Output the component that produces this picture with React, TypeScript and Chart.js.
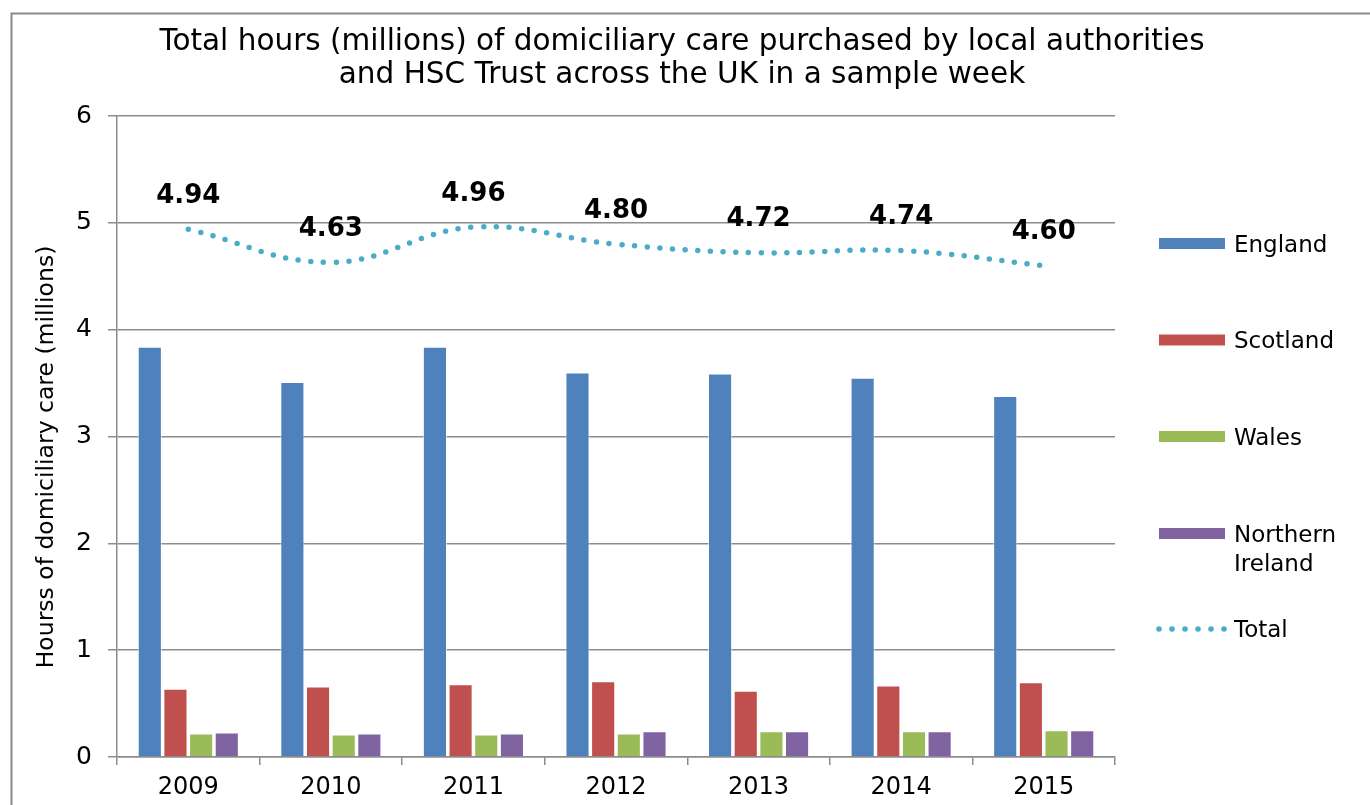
import { useEffect, useRef } from "react";
import { Chart, registerables } from "chart.js";

Chart.register(...registerables);

const years = ["2009", "2010", "2011", "2012", "2013", "2014", "2015"];
const england = [3.84, 3.51, 3.84, 3.6, 3.59, 3.55, 3.38];
const scotland = [0.64, 0.66, 0.68, 0.71, 0.62, 0.67, 0.7];
const wales = [0.22, 0.21, 0.21, 0.22, 0.24, 0.24, 0.25];
const northernIreland = [0.23, 0.22, 0.22, 0.24, 0.24, 0.24, 0.25];
const total = [4.94, 4.63, 4.96, 4.8, 4.72, 4.74, 4.6];
const totalLabels = ["4.94", "4.63", "4.96", "4.80", "4.72", "4.74", "4.60"];

const titleLines = [
  "Total hours (millions) of domiciliary care purchased by local authorities",
  "and HSC Trust across the UK in a sample week",
];
const yAxisTitle = "Hourss of domiciliary care (millions)";

const COLORS = {
  england: "#4F81BD",
  scotland: "#C0504D",
  wales: "#9BBB59",
  ni: "#8064A2",
  total: "#4BACC6",
  grid: "#8C8C8C",
};

const FONT = "'DejaVu Sans', Verdana, sans-serif";

const legendItems = [
  { lines: ["England"], color: COLORS.england, type: "bar" },
  { lines: ["Scotland"], color: COLORS.scotland, type: "bar" },
  { lines: ["Wales"], color: COLORS.wales, type: "bar" },
  { lines: ["Northern", "Ireland"], color: COLORS.ni, type: "bar" },
  { lines: ["Total"], color: COLORS.total, type: "line" },
];

const decorPlugin = {
  id: "decor",
  beforeDraw(chart: any) {
    const ctx = chart.ctx;
    ctx.save();
    ctx.fillStyle = "#ffffff";
    ctx.fillRect(0, 0, chart.width, chart.height);
    ctx.strokeStyle = "#8A8A8A";
    ctx.lineWidth = 2;
    ctx.beginPath();
    ctx.moveTo(11.5, chart.height);
    ctx.lineTo(11.5, 13.5);
    ctx.lineTo(chart.width, 13.5);
    ctx.stroke();
    ctx.restore();
  },
  afterDraw(chart: any) {
    const ctx = chart.ctx;
    ctx.save();
    // title
    ctx.fillStyle = "#000000";
    ctx.font = `29.5px ${FONT}`;
    ctx.textAlign = "center";
    ctx.textBaseline = "alphabetic";
    ctx.fillText(titleLines[0], 682, 50);
    ctx.fillText(titleLines[1], 682, 83);

    // y axis title
    ctx.save();
    ctx.translate(53, 457);
    ctx.rotate(-Math.PI / 2);
    ctx.font = `23.5px ${FONT}`;
    ctx.textAlign = "center";
    ctx.fillText(yAxisTitle, 0, 0);
    ctx.restore();

    // data labels for Total
    const meta = chart.getDatasetMeta(4);
    ctx.font = `bold 26px ${FONT}`;
    ctx.textBaseline = "middle";
    meta.data.forEach((pt: any, i: number) => {
      ctx.fillText(totalLabels[i], pt.x, pt.y - 33);
    });

    // legend
    const swatchCenters = [243.5, 340, 436.5, 533.5, 629];
    const baselines = [252, 348, 445, 542, 637];
    ctx.font = `23px ${FONT}`;
    ctx.textAlign = "left";
    ctx.textBaseline = "alphabetic";
    legendItems.forEach((item, i) => {
      const cy = swatchCenters[i];
      ctx.fillStyle = item.color;
      if (item.type === "bar") {
        ctx.fillRect(1159, cy - 5.5, 66, 11);
      } else {
        for (let k = 0; k < 6; k++) {
          ctx.beginPath();
          ctx.arc(1159 + k * 13, cy, 2.8, 0, Math.PI * 2);
          ctx.fill();
        }
      }
      ctx.fillStyle = "#000000";
      item.lines.forEach((ln, j) => {
        ctx.fillText(ln, 1234, baselines[i] + j * 29);
      });
    });
    ctx.restore();
  },
};

export default function App() {
  const canvasRef = useRef<HTMLCanvasElement | null>(null);

  useEffect(() => {
    if (!canvasRef.current) return;
    const barDs = (label: string, data: number[], color: string) => ({
      type: "bar" as const,
      label,
      data,
      backgroundColor: color,
      borderColor: "rgba(255,255,255,0.6)",
      borderWidth: 1,
      categoryPercentage: 0.72,
      barPercentage: 0.94,
      order: 2,
    });
    const chart = new Chart(canvasRef.current, {
      type: "bar",
      data: {
        labels: years,
        datasets: [
          barDs("England", england, COLORS.england),
          barDs("Scotland", scotland, COLORS.scotland),
          barDs("Wales", wales, COLORS.wales),
          barDs("Northern Ireland", northernIreland, COLORS.ni),
          {
            type: "line" as const,
            label: "Total",
            data: total,
            borderColor: COLORS.total,
            backgroundColor: COLORS.total,
            borderWidth: 5.5,
            borderDash: [0, 12.7],
            borderCapStyle: "round",
            tension: 0.4,
            pointRadius: 0,
            fill: false,
            order: 1,
          } as any,
        ],
      },
      options: {
        animation: false,
        responsive: false,
        maintainAspectRatio: false,
        layout: { padding: { top: 116, right: 255, left: 0, bottom: 0 } },
        plugins: {
          legend: { display: false },
          title: { display: false },
          tooltip: { enabled: false },
        },
        scales: {
          x: {
            offset: true,
            grid: {
              display: true,
              offset: true,
              drawOnChartArea: false,
              drawTicks: true,
              tickLength: 8,
              color: COLORS.grid,
              lineWidth: 1.5,
            },
            border: { display: true, color: COLORS.grid, width: 1.5 },
            ticks: {
              color: "#000000",
              font: { family: FONT, size: 24 },
              padding: 8,
              maxRotation: 0,
            },
            afterFit: (scale: any) => {
              scale.height = 48;
            },
          },
          y: {
            min: 0,
            max: 6,
            ticks: {
              stepSize: 1,
              color: "#000000",
              font: { family: FONT, size: 25 },
              padding: 16,
            },
            grid: {
              color: COLORS.grid,
              lineWidth: 1.5,
              tickLength: 9,
              drawTicks: true,
            },
            border: { display: true, color: COLORS.grid, width: 1.5 },
            title: { display: false },
            afterFit: (scale: any) => {
              scale.width = 117;
            },
          },
        },
      },
      plugins: [decorPlugin],
    });
    return () => chart.destroy();
  }, []);

  return (
    <div style={{ position: "fixed", left: 0, top: 0, width: 1370, height: 805 }}>
      <canvas ref={canvasRef} width={1370} height={805} style={{ display: "block" }} />
    </div>
  );
}
